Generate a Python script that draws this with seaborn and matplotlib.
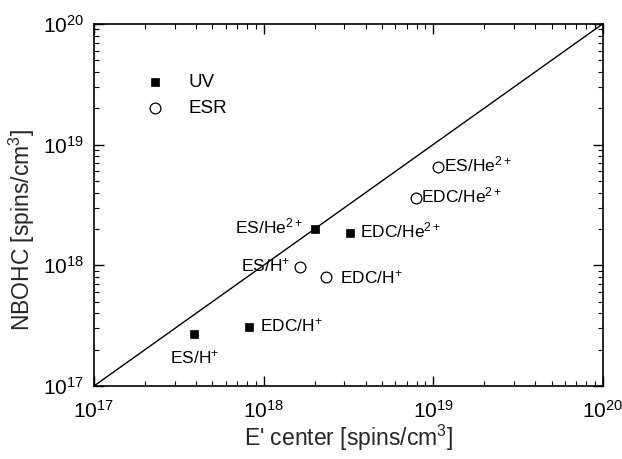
import matplotlib
matplotlib.use("Agg")
import matplotlib.pyplot as plt
import seaborn as sns
import pandas as pd
from matplotlib.ticker import LogLocator, NullFormatter

sns.set_theme(style="ticks")
plt.rcParams["font.family"] = ["Liberation Sans", "DejaVu Sans"]
plt.rcParams["mathtext.fontset"] = "custom"
plt.rcParams["mathtext.rm"] = "Liberation Sans"
plt.rcParams["mathtext.it"] = "Liberation Sans"

# UV absorption estimates
uv_labels = ["ES/H$^{+}$", "EDC/H$^{+}$", "ES/He$^{2+}$", "EDC/He$^{2+}$"]
uv_eprime = [3.9e17, 8.2e17, 2.02e18, 3.25e18]
uv_nbohc = [2.7e17, 3.08e17, 2.0e18, 1.85e18]

# ESR estimates
esr_labels = ["ES/H$^{+}$", "EDC/H$^{+}$", "EDC/He$^{2+}$", "ES/He$^{2+}$"]
esr_eprime = [1.65e18, 2.35e18, 7.9e18, 1.07e19]
esr_nbohc = [9.7e17, 8.0e17, 3.6e18, 6.5e18]

# 1:1 reference line
diag = [1e17, 1e20]

df = pd.DataFrame({
    "eprime": uv_eprime + esr_eprime,
    "nbohc": uv_nbohc + esr_nbohc,
    "method": ["UV"] * 4 + ["ESR"] * 4,
    "label": uv_labels + esr_labels,
})

fig = plt.figure(figsize=(6.22, 4.59), dpi=100)
ax = fig.add_axes([0.151, 0.159, 0.818, 0.789])

sns.lineplot(x=diag, y=diag, ax=ax, color="black", lw=1.0)
sns.scatterplot(data=df[df.method == "UV"], x="eprime", y="nbohc", ax=ax,
                marker="s", s=40, color="black", edgecolor="black",
                linewidth=0.5, label="UV", zorder=3)
sns.scatterplot(data=df[df.method == "ESR"], x="eprime", y="nbohc", ax=ax,
                marker="o", s=60, facecolor="white", edgecolor="black",
                linewidth=0.9, label="ESR", zorder=3)

ax.set_xscale("log")
ax.set_yscale("log")
ax.set_xlim(1e17, 1e20)
ax.set_ylim(1e17, 1e20)

# point annotations: (offset in points, horizontal alignment)
offsets = {
    ("UV", 0): ((0, -17), "center"),
    ("UV", 1): ((8, 1), "left"),
    ("UV", 2): ((-9, 2), "right"),
    ("UV", 3): ((7, 2), "left"),
    ("ESR", 0): ((-7, 1), "right"),
    ("ESR", 1): ((10, 0), "left"),
    ("ESR", 2): ((4, 2), "left"),
    ("ESR", 3): ((4, 2), "left"),
}
for method, sub in (("UV", df[df.method == "UV"]), ("ESR", df[df.method == "ESR"])):
    for i, (_, r) in enumerate(sub.iterrows()):
        (dx, dy), ha = offsets[(method, i)]
        ax.annotate(r["label"], (r["eprime"], r["nbohc"]), xytext=(dx, dy),
                    textcoords="offset points", ha=ha, va="center",
                    fontsize=12.5, color="black")

ax.set_xlabel("E' center [spins/cm$^{3}$]", fontsize=16.5, labelpad=1)
ax.set_ylabel("NBOHC [spins/cm$^{3}$]", fontsize=16.5)
ax.yaxis.set_label_coords(-0.112, 0.43)

ax.xaxis.set_major_locator(LogLocator(base=10, numticks=10))
ax.yaxis.set_major_locator(LogLocator(base=10, numticks=10))
ax.xaxis.set_minor_locator(LogLocator(base=10, subs=range(2, 10), numticks=20))
ax.yaxis.set_minor_locator(LogLocator(base=10, subs=range(2, 10), numticks=20))
ax.xaxis.set_minor_formatter(NullFormatter())
ax.yaxis.set_minor_formatter(NullFormatter())
ax.tick_params(which="both", direction="in", top=True, right=True, colors="black")
ax.tick_params(which="major", length=7, width=1.0, labelsize=15)
ax.tick_params(axis="x", which="major", pad=10)
ax.tick_params(axis="y", which="major", pad=7)
ax.tick_params(which="minor", length=3.5, width=0.8)
for sp in ax.spines.values():
    sp.set_color("black")
    sp.set_linewidth(1.2)

leg = ax.legend(loc="upper left", bbox_to_anchor=(0.068, 0.882), frameon=False,
                fontsize=13.5, handletextpad=0.8, labelspacing=0.45,
                borderaxespad=0)
for t in leg.get_texts():
    t.set_color("black")

fig.savefig("out.png", dpi=100, facecolor="white")
